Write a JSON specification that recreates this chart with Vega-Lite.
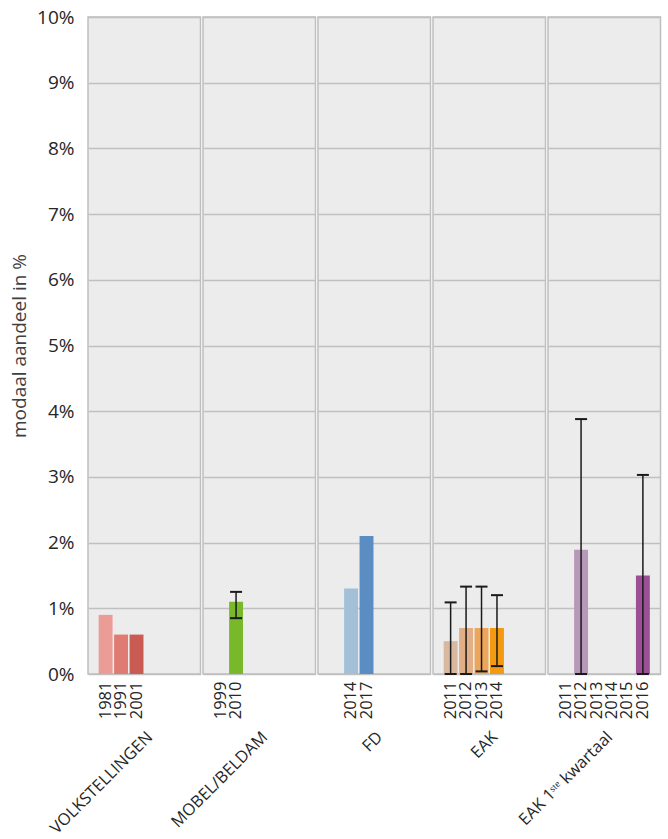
{
  "$schema": "https://vega.github.io/schema/vega-lite/v6.json",
  "padding": {"left": 10, "top": 8, "right": 5, "bottom": 0},
  "background": "white",
  "data": {
    "values": [
      {"group": "VOLKSTELLINGEN", "slot": "0_1981", "key": "V1981", "value": 0.9, "lo": null, "hi": null},
      {"group": "VOLKSTELLINGEN", "slot": "1_1991", "key": "V1991", "value": 0.6, "lo": null, "hi": null},
      {"group": "VOLKSTELLINGEN", "slot": "2_2001", "key": "V2001", "value": 0.6, "lo": null, "hi": null},
      {"group": "VOLKSTELLINGEN", "slot": "3_", "key": "none", "value": null, "lo": null, "hi": null},
      {"group": "VOLKSTELLINGEN", "slot": "4_", "key": "none", "value": null, "lo": null, "hi": null},
      {"group": "VOLKSTELLINGEN", "slot": "5_", "key": "none", "value": null, "lo": null, "hi": null},
      {"group": "MOBEL/BELDAM", "slot": "0_1999", "key": "none", "value": null, "lo": null, "hi": null},
      {"group": "MOBEL/BELDAM", "slot": "1_2010", "key": "M2010", "value": 1.1, "lo": 0.85, "hi": 1.25},
      {"group": "MOBEL/BELDAM", "slot": "2_", "key": "none", "value": null, "lo": null, "hi": null},
      {"group": "MOBEL/BELDAM", "slot": "3_", "key": "none", "value": null, "lo": null, "hi": null},
      {"group": "MOBEL/BELDAM", "slot": "4_", "key": "none", "value": null, "lo": null, "hi": null},
      {"group": "MOBEL/BELDAM", "slot": "5_", "key": "none", "value": null, "lo": null, "hi": null},
      {"group": "FD", "slot": "0_", "key": "none", "value": null, "lo": null, "hi": null},
      {"group": "FD", "slot": "1_2014", "key": "F2014", "value": 1.3, "lo": null, "hi": null},
      {"group": "FD", "slot": "2_2017", "key": "F2017", "value": 2.1, "lo": null, "hi": null},
      {"group": "FD", "slot": "3_", "key": "none", "value": null, "lo": null, "hi": null},
      {"group": "FD", "slot": "4_", "key": "none", "value": null, "lo": null, "hi": null},
      {"group": "FD", "slot": "5_", "key": "none", "value": null, "lo": null, "hi": null},
      {"group": "EAK", "slot": "0_2011", "key": "E2011", "value": 0.5, "lo": 0, "hi": 1.09},
      {"group": "EAK", "slot": "1_2012", "key": "E2012", "value": 0.7, "lo": 0, "hi": 1.33},
      {"group": "EAK", "slot": "2_2013", "key": "E2013", "value": 0.7, "lo": 0.04, "hi": 1.33},
      {"group": "EAK", "slot": "3_2014", "key": "E2014", "value": 0.7, "lo": 0.12, "hi": 1.2},
      {"group": "EAK", "slot": "4_", "key": "none", "value": null, "lo": null, "hi": null},
      {"group": "EAK", "slot": "5_", "key": "none", "value": null, "lo": null, "hi": null},
      {"group": "EAK 1ˢᵗᵉ kwartaal", "slot": "0_2011", "key": "none", "value": null, "lo": null, "hi": null},
      {"group": "EAK 1ˢᵗᵉ kwartaal", "slot": "1_2012", "key": "K2012", "value": 1.89, "lo": 0, "hi": 3.88},
      {"group": "EAK 1ˢᵗᵉ kwartaal", "slot": "2_2013", "key": "none", "value": null, "lo": null, "hi": null},
      {"group": "EAK 1ˢᵗᵉ kwartaal", "slot": "3_2014", "key": "none", "value": null, "lo": null, "hi": null},
      {"group": "EAK 1ˢᵗᵉ kwartaal", "slot": "4_2015", "key": "none", "value": null, "lo": null, "hi": null},
      {"group": "EAK 1ˢᵗᵉ kwartaal", "slot": "5_2016", "key": "K2016", "value": 1.5, "lo": 0, "hi": 3.03}
    ]
  },
  "facet": {
    "column": {
      "field": "group",
      "type": "nominal",
      "title": null,
      "sort": ["VOLKSTELLINGEN", "MOBEL/BELDAM", "FD", "EAK", "EAK 1ˢᵗᵉ kwartaal"],
      "header": {
        "labelOrient": "bottom",
        "labelAngle": -45,
        "labelAlign": "right",
        "labelBaseline": "top",
        "labelFontSize": 16.5,
        "labelColor": "#262626",
        "labelPadding": 9
      }
    }
  },
  "spacing": 0,
  "resolve": {"scale": {"x": "independent"}},
  "spec": {
    "width": 112.5,
    "height": 657,
    "encoding": {
      "x": {
        "field": "slot",
        "type": "nominal",
        "scale": {"paddingInner": 0, "paddingOuter": 0.64},
        "axis": {
          "title": null,
          "labelExpr": "split(datum.value, '_')[1]",
          "labelAngle": -90,
          "labelAlign": "right",
          "labelBaseline": "middle",
          "labelFontSize": 16.5,
          "labelColor": "#262626",
          "labelPadding": 7,
          "labelOverlap": false,
          "ticks": false,
          "domain": false,
          "grid": false
        }
      }
    },
    "layer": [
      {
        "mark": {"type": "bar", "width": {"band": 0.9}, "invalid": "show"},
        "encoding": {
          "y": {
            "field": "value",
            "type": "quantitative",
            "title": "modaal aandeel in %",
            "scale": {"domain": [0, 10], "nice": false},
            "axis": {
              "values": [0, 1, 2, 3, 4, 5, 6, 7, 8, 9, 10],
              "labelExpr": "datum.value + '%'"
            }
          },
          "color": {
            "field": "key",
            "type": "nominal",
            "legend": null,
            "scale": {
              "domain": ["V1981", "V1991", "V2001", "M2010", "F2014", "F2017", "E2011", "E2012", "E2013", "E2014", "K2012", "K2016", "none"],
              "range": ["#eb9c97", "#df7b73", "#c95b52", "#79b82a", "#a3c0d8", "#5b8dc3", "#d8b9a0", "#e1ae85", "#eca559", "#f39a10", "#b698b8", "#9b5096", "#ececec"]
            }
          }
        }
      },
      {
        "mark": {"type": "rule", "color": "#1a1a1a", "strokeWidth": 1.5, "invalid": "show"},
        "encoding": {
          "y": {"field": "lo", "type": "quantitative", "title": "modaal aandeel in %"},
          "y2": {"field": "hi"},
          "opacity": {"condition": {"test": "isValid(datum.hi)", "value": 1}, "value": 0}
        }
      },
      {
        "mark": {"type": "tick", "color": "#1a1a1a", "size": 12, "thickness": 2, "orient": "horizontal", "invalid": "show"},
        "encoding": {
          "y": {"field": "hi", "type": "quantitative", "title": "modaal aandeel in %"},
          "opacity": {"condition": {"test": "isValid(datum.hi)", "value": 1}, "value": 0}
        }
      },
      {
        "mark": {"type": "tick", "color": "#1a1a1a", "size": 12, "thickness": 2, "orient": "horizontal", "invalid": "show"},
        "encoding": {
          "y": {"field": "lo", "type": "quantitative", "title": "modaal aandeel in %"},
          "opacity": {"condition": {"test": "isValid(datum.lo)", "value": 1}, "value": 0}
        }
      }
    ]
  },
  "config": {
    "font": "Open Sans",
    "view": {"fill": "#ececec", "stroke": "#bfbfbf", "strokeWidth": 1.5},
    "axisY": {
      "labelFontSize": 19,
      "labelColor": "#262626",
      "titleFontSize": 19,
      "titleFontWeight": "normal",
      "titleColor": "#404040",
      "ticks": false,
      "domain": false,
      "gridColor": "#c0c0c0",
      "gridWidth": 1.5,
      "labelPadding": 13,
      "titlePadding": 7
    }
  }
}
